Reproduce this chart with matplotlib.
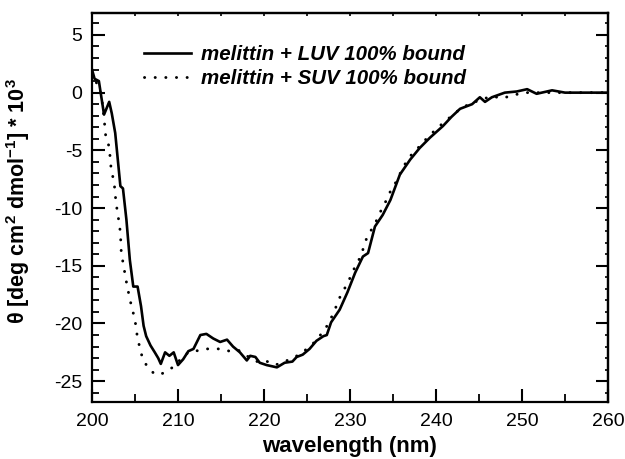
import matplotlib
matplotlib.use("Agg")
import matplotlib.pyplot as plt
from matplotlib.ticker import MultipleLocator

plt.rcParams['font.family'] = ['Liberation Sans', 'DejaVu Sans']
plt.rcParams['axes.unicode_minus'] = False
plt.rcParams['mathtext.fontset'] = 'custom'
plt.rcParams['mathtext.rm'] = 'Liberation Sans'
plt.rcParams['mathtext.bf'] = 'Liberation Sans:bold'
plt.rcParams['mathtext.it'] = 'Liberation Sans:italic'

luv_wl = [200.0, 200.3, 200.8, 201.4, 202.0, 202.3, 202.7, 203.0, 203.3, 203.6, 204.0, 204.4,
          204.8, 205.3, 205.7, 206.0, 206.3, 206.8, 207.3, 207.7, 208.0, 208.5, 209.0, 209.5,
          210.0, 210.6, 211.2, 211.8, 212.6, 213.3, 214.1, 214.9, 215.7, 216.4, 217.2, 218.0,
          218.4, 219.0, 219.5, 220.3, 221.5, 222.4, 223.3, 223.8, 224.5, 225.3, 226.1, 226.9,
          227.3, 227.8, 228.8, 229.7, 230.6, 231.5, 232.1, 232.9, 233.8, 234.7, 235.8, 237.0,
          238.1, 239.3, 240.8, 241.8, 242.8, 244.2, 245.1, 245.7, 246.5, 248.0, 249.4, 250.6,
          251.7, 253.5, 255.0, 260.0]
luv_val = [2.0, 1.2, 1.0, -1.9, -0.8, -1.8, -3.5, -5.8, -8.1, -8.3, -11.0, -14.5,
           -16.8, -16.8, -18.5, -20.2, -21.1, -21.9, -22.5, -23.0, -23.5, -22.5, -22.8, -22.5,
           -23.6, -23.1, -22.4, -22.2, -21.0, -20.9, -21.3, -21.6, -21.4, -22.0, -22.5, -23.2,
           -22.8, -22.9, -23.4, -23.6, -23.8, -23.4, -23.3, -22.9, -22.7, -22.2, -21.5, -21.1,
           -21.0, -19.9, -18.8, -17.3, -15.6, -14.2, -13.9, -11.6, -10.6, -9.3, -7.1, -5.8,
           -4.8, -3.9, -2.9, -2.1, -1.4, -1.0, -0.4, -0.8, -0.4, 0.0, 0.1, 0.3,
           -0.1, 0.2, 0.0, 0.0]

suv_wl = [200.0, 200.4, 200.8, 201.1, 201.4, 201.6, 202.0, 202.2, 202.6, 202.8, 203.0, 203.3,
          203.4, 203.6, 204.0, 204.4, 205.0, 205.3, 205.9, 206.5, 207.3, 208.0, 208.5, 209.6,
          210.4, 211.2, 212.0, 213.1, 214.1, 215.1, 216.0, 217.0, 218.0, 219.1, 220.1, 221.3,
          222.4, 223.6, 224.5, 225.9, 227.1, 227.7, 228.3, 228.7, 229.2, 229.8, 230.3, 230.9,
          231.4, 231.7, 232.3, 232.9, 233.4, 234.0, 234.5, 235.1, 235.7, 236.3, 237.0, 237.9,
          239.0, 240.1, 241.2, 242.5, 243.8, 245.3, 246.5, 247.7, 249.0, 250.5, 260.0]
suv_val = [1.7, 1.0, 0.5, -0.3, -2.2, -3.8, -4.7, -6.4, -8.0, -9.6, -10.5, -12.1,
           -13.8, -14.7, -16.4, -17.9, -19.7, -21.3, -23.1, -23.8, -24.4, -24.4, -24.2, -23.7,
           -23.0, -22.5, -22.4, -22.2, -22.2, -22.2, -22.4, -22.3, -22.8, -23.3, -23.2, -23.6,
           -23.3, -22.9, -22.5, -21.6, -20.5, -19.7, -18.7, -17.9, -17.2, -16.4, -15.5, -14.7,
           -13.9, -13.0, -12.1, -11.4, -10.5, -9.7, -8.8, -8.1, -7.2, -6.3, -5.5, -4.8,
           -3.9, -3.1, -2.4, -1.6, -1.0, -0.6, -0.3, -0.5, -0.2, 0.0, 0.0]

labels = ["melittin + LUV 100% bound", "melittin + SUV 100% bound"]

fig = plt.figure(figsize=(6.25, 4.59), dpi=100)
ax = fig.add_axes([0.1472, 0.1242, 0.8256, 0.8475])

ax.plot(luv_wl, luv_val, color='black', lw=1.9, label=labels[0], solid_joinstyle='round')
ax.plot(suv_wl, suv_val, color='black', lw=2.1, linestyle=(0, (0.05, 3.6)),
        dash_capstyle='round', label=labels[1])

ax.set_xlim(200, 260)
ax.set_ylim(-26.8, 6.9)

ax.xaxis.set_major_locator(MultipleLocator(10))
ax.xaxis.set_minor_locator(MultipleLocator(5))
ax.yaxis.set_major_locator(MultipleLocator(5))
ax.yaxis.set_minor_locator(MultipleLocator(1))

ax.tick_params(which='major', direction='in', length=9.5, width=1.5, labelsize=14,
               top=False, right=False)
ax.tick_params(which='minor', direction='in', length=5, width=1.3, top=False, right=False)
ax.tick_params(axis='y', which='major', pad=7)
ax.tick_params(axis='x', which='major', pad=8)
ax.tick_params(axis='x', which='minor', length=6)

for s in ax.spines.values():
    s.set_linewidth(1.6)

top = ax.secondary_xaxis('top')
top.xaxis.set_major_locator(MultipleLocator(5))
top.tick_params(direction='in', length=2.5, width=1.2, labelsize=0)
top.set_xticklabels([])
top.spines['top'].set_linewidth(1.6)

right = ax.secondary_yaxis('right')
right.yaxis.set_major_locator(MultipleLocator(5))
right.yaxis.set_minor_locator(MultipleLocator(1))
right.tick_params(which='major', direction='in', length=9, width=1.5)
right.tick_params(which='minor', direction='in', length=2.5, width=1.2)
right.set_yticklabels([])
right.spines['right'].set_linewidth(1.6)

ax.set_xlabel("wavelength (nm)", fontsize=16, fontweight='bold')
ax.xaxis.set_label_coords(0.5, -0.128)
ax.xaxis.label.set_va('baseline')
ax.set_ylabel(r"$\mathbf{\theta}$ [deg cm$^\mathbf{2}$ dmol$^\mathbf{-1}$] * 10$^\mathbf{3}$",
              fontsize=15.5, fontweight='bold')
ax.yaxis.set_label_coords(-0.143, 0.517)
ax.yaxis.label.set_va('center')

leg = ax.legend(loc='upper left', bbox_to_anchor=(0.065, 0.965), frameon=False,
                prop={'weight': 'bold', 'style': 'italic', 'size': 14.8},
                handlelength=2.3, handletextpad=0.45, labelspacing=0.25)

fig.savefig("out.png", dpi=100)
